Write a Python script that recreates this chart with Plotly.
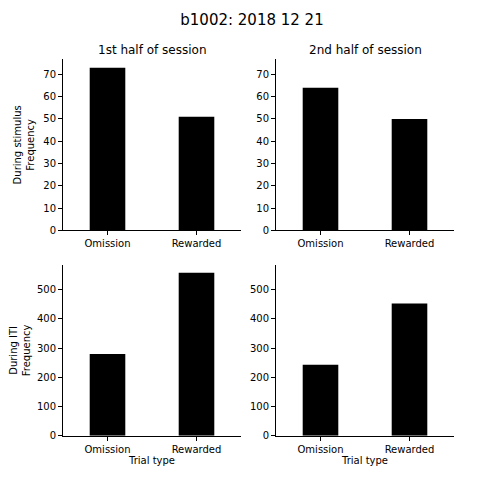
import plotly.graph_objects as go

categories = ["Omission", "Rewarded"]
stim_first = [73, 51]
stim_second = [64, 50]
iti_first = [280, 557]
iti_second = [243, 452]

W = 504
OFF = 8  # page body margin shifts the figure
def px(a, b):
    return [(a - OFF) / W, (b - OFF) / W]
def py(top, bot):
    return [1 - (bot - OFF) / W, 1 - (top - OFF) / W]

fig = go.Figure()
panels = [
    (stim_first, "x", "y", px(63, 241), py(60, 233), 76.7),
    (stim_second, "x2", "y2", px(276, 454), py(60, 233), 76.7),
    (iti_first, "x3", "y3", px(63, 241), py(268, 441), 584),
    (iti_second, "x4", "y4", px(276, 454), py(268, 441), 584),
]
font = dict(family="DejaVu Sans", size=10, color="black")
for i, (vals, xa, ya, xd, yd, ymax) in enumerate(panels):
    fig.add_trace(go.Bar(x=[0, 1], y=vals, width=0.4, marker_color="black",
                         marker_line_width=0, xaxis=xa, yaxis=ya, showlegend=False))
    n = "" if i == 0 else str(i + 1)
    axcommon = dict(showline=True, linecolor="black", linewidth=1, ticks="outside",
                    ticklen=4, tickcolor="black", showgrid=False, zeroline=False,
                    tickfont=font)
    fig.layout["xaxis" + n] = dict(domain=xd, anchor=ya, range=[-0.5, 1.5],
                                   tickvals=[0, 1], ticktext=categories, **axcommon)
    fig.layout["yaxis" + n] = dict(domain=yd, anchor=xa, range=[0, ymax],
                                   dtick=10 if ymax < 100 else 100, **axcommon)

fig.layout.xaxis3.title = dict(text="Trial type", font=font, standoff=2)
fig.layout.xaxis4.title = dict(text="Trial type", font=font, standoff=2)
fig.layout.yaxis.title = dict(text="During stimulus<br>Frequency", font=font, standoff=6)
fig.layout.yaxis3.title = dict(text="During ITI<br>Frequency", font=font, standoff=6)

for text, x in [("1st half of session", 152), ("2nd half of session", 365)]:
    fig.add_annotation(text=text, x=(x - OFF) / W, y=1 - (50 - OFF) / W,
                       xref="paper", yref="paper", xanchor="center", yanchor="middle",
                       showarrow=False,
                       font=dict(family="DejaVu Sans", size=12, color="black"))

fig.update_layout(
    width=W, height=W, margin=dict(l=0, r=0, t=0, b=0),
    paper_bgcolor="white", plot_bgcolor="white",
    title=dict(text="b1002: 2018 12 21", x=(252 - OFF) / W, xanchor="center",
               y=1 - (20 - OFF) / W, yanchor="middle",
               font=dict(family="DejaVu Sans", size=15, color="black")),
)
fig.write_html("out.html")
